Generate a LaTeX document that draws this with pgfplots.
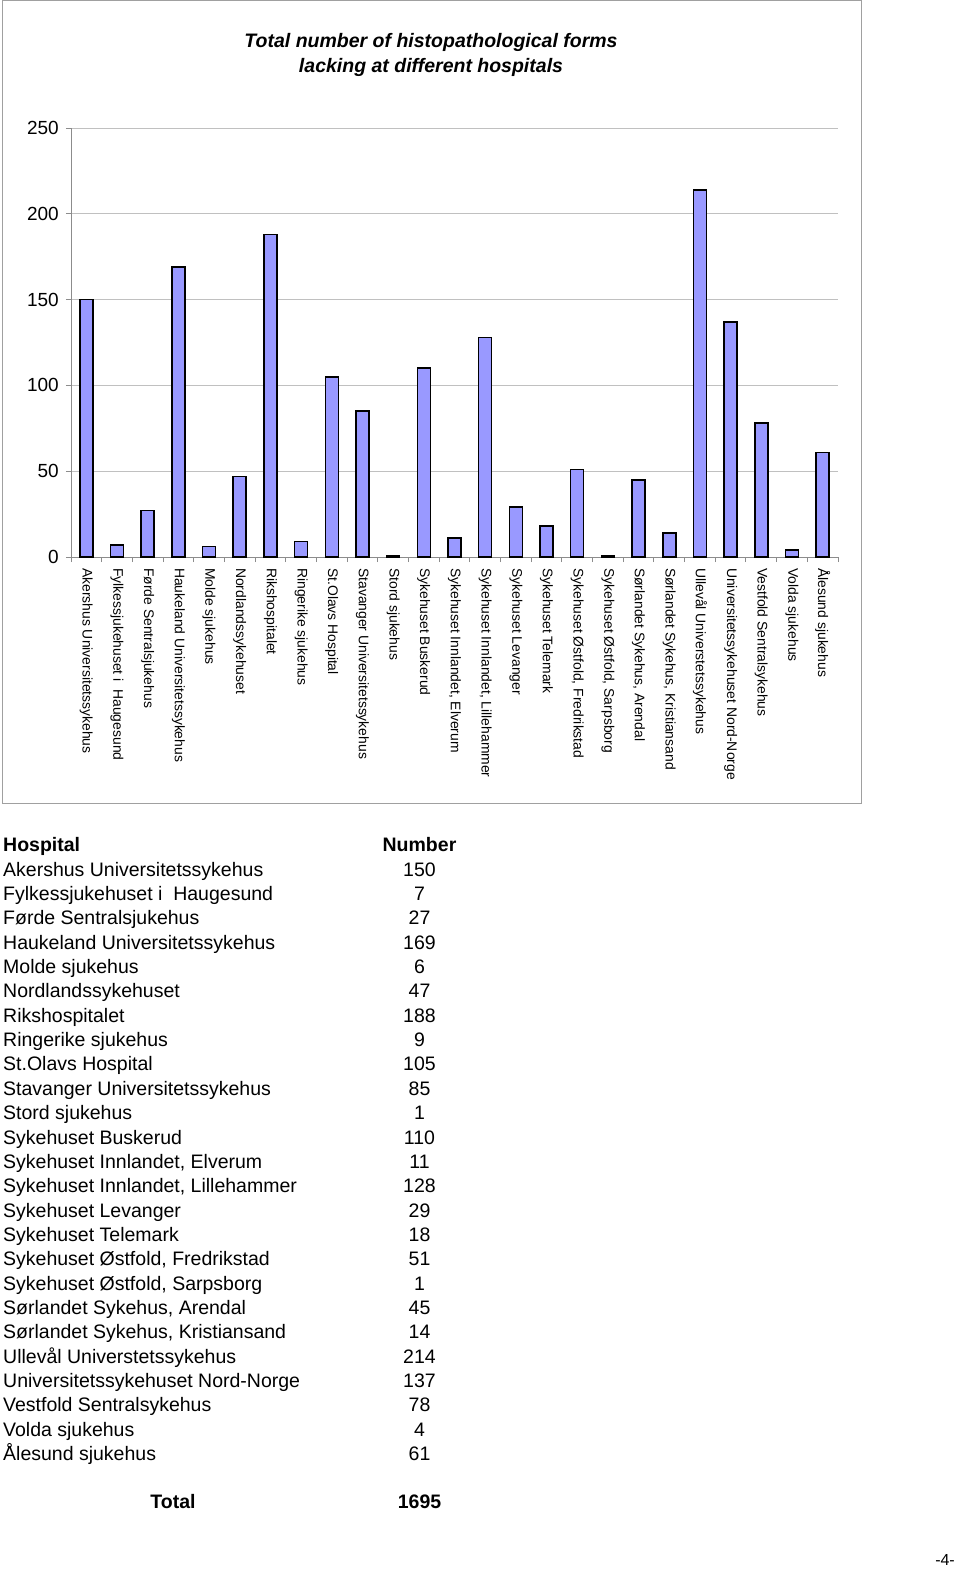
\documentclass[border=0pt]{standalone}
\usepackage{pgfplots}
\pgfplotsset{compat=1.18}
\usepackage{pgfplotstable}
\usepackage{fontspec}
\setmainfont{Liberation Sans}

\definecolor{barfill}{HTML}{9999FF}
\definecolor{gridgray}{HTML}{C0C0C0}
\definecolor{axisgray}{HTML}{8C8C8C}
\definecolor{framegray}{HTML}{A0A0A0}

\newcommand\tabfont{\fontsize{19.5}{24}\selectfont}

% forms lacking per hospital
\pgfplotstableread{
idx value
0  150
1  7
2  27
3  169
4  6
5  47
6  188
7  9
8  105
9  85
10 1
11 110
12 11
13 128
14 29
15 18
16 51
17 1
18 45
19 14
20 214
21 137
22 78
23 4
24 61
}\hospitaldata

\begin{document}
\begin{tikzpicture}
\path[use as bounding box] (0pt,0pt) rectangle (960pt,-1570pt);
\draw[draw=framegray, line width=1pt] (2pt,-0.5pt) rectangle (861pt,-803pt);

\node[font=\bfseries\itshape\tabfont, anchor=base] at (431pt,-48pt)
  {Total number of histopathological forms};
\node[font=\bfseries\itshape\tabfont, anchor=base] at (431pt,-73pt)
  {lacking at different hospitals};

\begin{axis}[
    at={(71pt,-557pt)}, anchor=south west,
    scale only axis,
    width=767pt, height=429pt,
    xmin=-0.5, xmax=24.5,
    ymin=0, ymax=250,
    ytick={0,50,...,250},
    xtick={0,...,24},
    minor xtick={-0.5,0.5,...,24.5},
    xticklabels={
      Akershus Universitetssykehus,
      Fylkessjukehuset i\ \ Haugesund,
      Førde Sentralsjukehus,
      Haukeland Universitetssykehus,
      Molde sjukehus,
      Nordlandssykehuset,
      Rikshospitalet,
      Ringerike sjukehus,
      St.Olavs Hospital,
      Stavanger Universitetssykehus,
      Stord sjukehus,
      Sykehuset Buskerud,
      {Sykehuset Innlandet, Elverum},
      {Sykehuset Innlandet, Lillehammer},
      Sykehuset Levanger,
      Sykehuset Telemark,
      {Sykehuset Østfold, Fredrikstad},
      {Sykehuset Østfold, Sarpsborg},
      {Sørlandet Sykehus, Arendal},
      {Sørlandet Sykehus, Kristiansand},
      Ullevål Universtetssykehus,
      Universitetssykehuset Nord-Norge,
      Vestfold Sentralsykehus,
      Volda sjukehus,
      Ålesund sjukehus},
    axis x line*=bottom,
    axis y line*=left,
    axis line style={-, draw=axisgray, line width=1pt},
    ymajorgrids=true,
    grid style={draw=gridgray, line width=0.8pt},
    tick align=outside,
    major tick length=5pt,
    minor tick length=5pt,
    major x tick style={draw=none},
    minor x tick style={draw=axisgray, line width=1pt},
    major y tick style={draw=axisgray, line width=1pt},
    xticklabel shift=6pt,
    yticklabel shift=7pt,
    /pgf/number format/assume math mode=true,
    yticklabel style={font=\fontsize{19}{21}\selectfont, inner sep=0pt},
    xticklabel style={font=\fontsize{13.9}{16}\selectfont, rotate=-90,
      anchor=west, inner sep=0pt},
]
\addplot[ybar, bar width=13pt, fill=barfill, draw=black, line width=1.5pt]
  table[x=idx, y=value] {\hospitaldata};
\end{axis}

% table below the chart
\node[font=\bfseries\tabfont, anchor=base west, inner sep=0pt] at (3pt,-851.7pt) {Hospital};
\node[font=\bfseries\tabfont, anchor=base, inner sep=0pt] at (419.5pt,-851.7pt) {Number};
\foreach \name/\val [count=\i] in {
    Akershus Universitetssykehus/150,
    Fylkessjukehuset i\ \ Haugesund/7,
    Førde Sentralsjukehus/27,
    Haukeland Universitetssykehus/169,
    Molde sjukehus/6,
    Nordlandssykehuset/47,
    Rikshospitalet/188,
    Ringerike sjukehus/9,
    St.Olavs Hospital/105,
    Stavanger Universitetssykehus/85,
    Stord sjukehus/1,
    Sykehuset Buskerud/110,
    {Sykehuset Innlandet, Elverum}/11,
    {Sykehuset Innlandet, Lillehammer}/128,
    Sykehuset Levanger/29,
    Sykehuset Telemark/18,
    {Sykehuset Østfold, Fredrikstad}/51,
    {Sykehuset Østfold, Sarpsborg}/1,
    {Sørlandet Sykehus, Arendal}/45,
    {Sørlandet Sykehus, Kristiansand}/14,
    Ullevål Universtetssykehus/214,
    Universitetssykehuset Nord-Norge/137,
    Vestfold Sentralsykehus/78,
    Volda sjukehus/4,
    Ålesund sjukehus/61} {
  \node[font=\tabfont, anchor=base west, inner sep=0pt] at (3pt,{-851.7pt-24.36pt*\i}) {\name};
  \node[font=\tabfont, anchor=base, inner sep=0pt] at (419.5pt,{-851.7pt-24.36pt*\i}) {\val};
}
\node[font=\bfseries\tabfont, anchor=base, inner sep=0pt] at (173pt,-1508pt) {Total};
\node[font=\bfseries\tabfont, anchor=base, inner sep=0pt] at (419.5pt,-1508pt) {1695};
\node[font=\fontsize{16}{18}\selectfont, anchor=base east, inner sep=0pt] at (955pt,-1565pt) {-4-};
\end{tikzpicture}
\end{document}
